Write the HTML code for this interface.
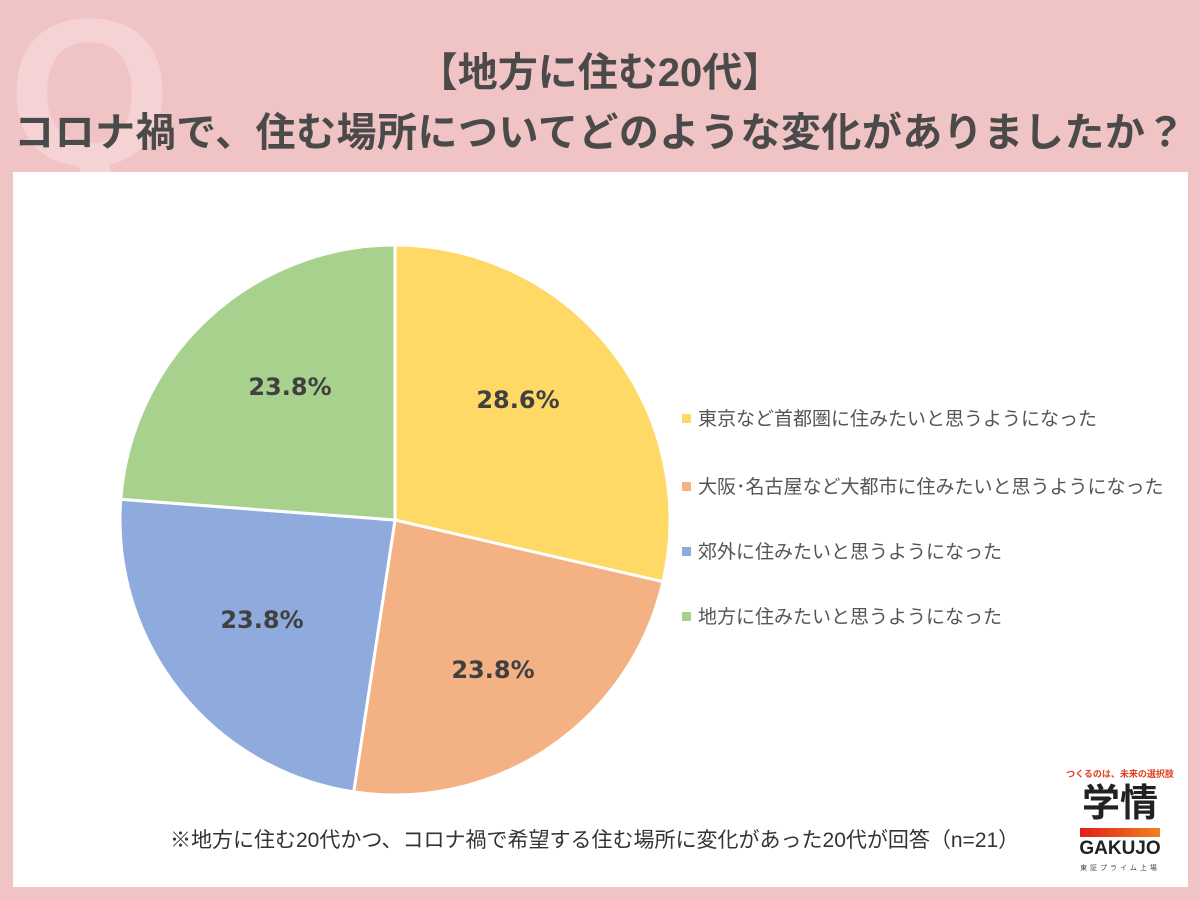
<!DOCTYPE html>
<html><head><meta charset="utf-8"><style>
body{margin:0;width:1200px;height:900px;background:#f0c3c5;position:relative;overflow:hidden;font-family:"Liberation Sans","Noto Sans CJK JP",sans-serif}
.q{position:absolute;left:8px;top:-12px;font-size:210px;font-weight:bold;color:#f5d3d5;line-height:1}
.t{position:absolute;left:0;width:1200px;text-align:center;font-weight:bold;color:#4a4a4a;font-size:40px;white-space:nowrap}
.panel{position:absolute;left:13px;top:172px;width:1175px;height:715px;background:#fff}
.lg{position:absolute;left:682px;font-size:19px;color:#555;white-space:nowrap}
.lg span{display:inline-block;width:9px;height:9px;margin-right:7px;vertical-align:2px}
</style></head><body>
<div class="q">Q</div>
<div class="t" style="top:40px">【地方に住む20代】</div>
<div class="t" style="top:100px;letter-spacing:0.5px">コロナ禍で、住む場所についてどのような変化がありましたか？</div>
<div class="panel"></div>
<svg style="position:absolute;left:0;top:0" width="1200" height="900">
<g stroke="#fff" stroke-width="3">
<path d="M395,520 L395,245 A275,275 0 0 1 663,581.7 Z" fill="#fed966"/>
<path d="M395,520 L663,581.7 A275,275 0 0 1 353.7,791.9 Z" fill="#f4b183"/>
<path d="M395,520 L353.7,791.9 A275,275 0 0 1 120.8,499.3 Z" fill="#8faadc"/>
<path d="M395,520 L120.8,499.3 A275,275 0 0 1 395,245 Z" fill="#a9d18e"/>
</g>
<g font-family="DejaVu Sans,sans-serif" font-weight="bold" font-size="24" fill="#404040" text-anchor="middle">
<text x="518" y="408">28.6%</text>
<text x="493" y="678">23.8%</text>
<text x="262" y="628">23.8%</text>
<text x="290" y="395">23.8%</text>
</g>
</svg>
<div class="lg" style="top:404px"><span style="background:#fed966"></span>東京など首都圏に住みたいと思うようになった</div>
<div class="lg" style="top:472px"><span style="background:#f4b183"></span>大阪･名古屋など大都市に住みたいと思うようになった</div>
<div class="lg" style="top:537px"><span style="background:#8faadc"></span>郊外に住みたいと思うようになった</div>
<div class="lg" style="top:602px"><span style="background:#a9d18e"></span>地方に住みたいと思うようになった</div>
<div style="position:absolute;left:170px;top:824px;font-size:21px;color:#333;white-space:nowrap">※地方に住む20代かつ、コロナ禍で希望する住む場所に変化があった20代が回答（n=21）</div>
<div style="position:absolute;left:1062px;top:767px;width:116px;text-align:center;font-size:9px;color:#e04020;font-weight:bold">つくるのは、未来の選択肢</div>
<div style="position:absolute;left:1062px;top:782px;width:116px;text-align:center;font-size:38px;color:#222;font-weight:bold;line-height:44px">学情</div>
<div style="position:absolute;left:1080px;top:828px;width:80px;height:9px;background:linear-gradient(90deg,#e0201a,#f08020)"></div>
<div style="position:absolute;left:1062px;top:838px;width:116px;text-align:center;font-size:19px;color:#222;font-weight:bold">GAKUJO</div>
<div style="position:absolute;left:1062px;top:863px;width:116px;text-align:center;font-size:7px;color:#444;letter-spacing:3px">東証プライム上場</div>
</body></html>
